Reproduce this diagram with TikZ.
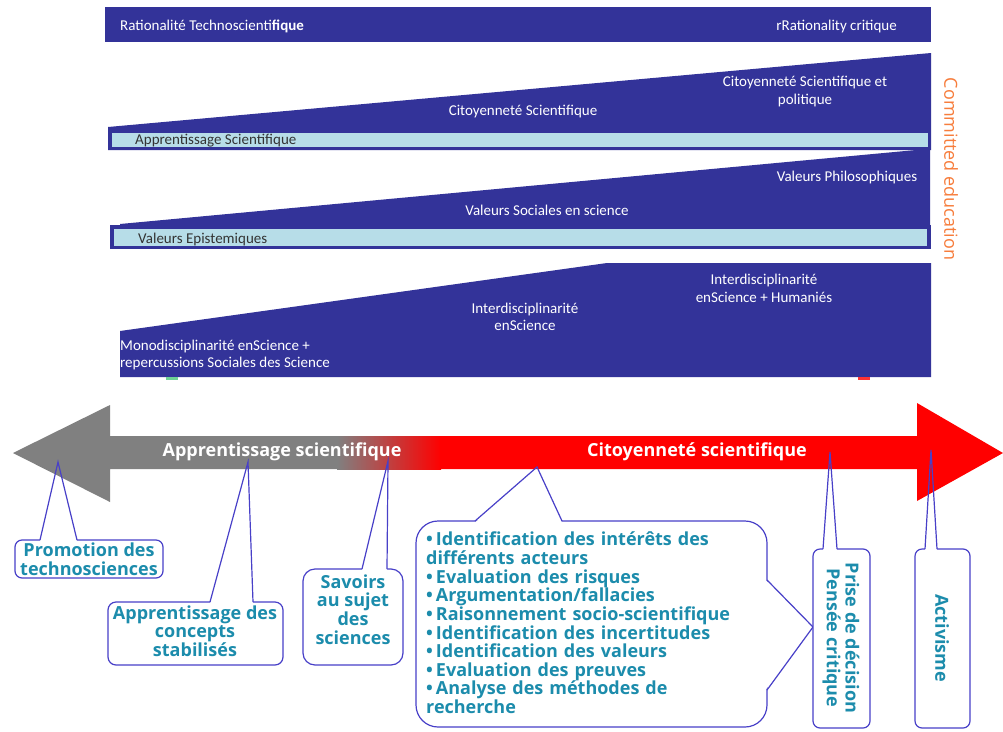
\documentclass[tikz,border=0pt]{standalone}
\usepackage{fontspec}
\setmainfont{Carlito}
\newfontfamily\osans{Open Sans}
\definecolor{dblue}{RGB}{51,51,153}
\definecolor{lbar}{RGB}{183,221,232}
\definecolor{cblue}{RGB}{72,64,200}
\definecolor{cteal}{RGB}{28,140,172}
\definecolor{agray}{RGB}{128,128,128}
\definecolor{ared}{RGB}{255,0,0}
\definecolor{corange}{RGB}{247,125,60}
\definecolor{mgreen}{RGB}{110,210,150}
\begin{document}
\begin{tikzpicture}[x=1pt,y=-1pt,
  band/.style={fill=dblue,draw=none},
  wtxt/.style={text=white,font=\fontsize{15}{17.5}\selectfont,inner sep=0,align=center},
  btxt/.style={text=black!80,font=\fontsize{15}{17.5}\selectfont,inner sep=0,anchor=west},
  cbox/.style={draw=cblue,line width=1.2pt,fill=white},
  ptr/.style={draw=cblue,line width=1.2pt,line join=miter},
  ctxt/.style={text=cteal,font=\osans\bfseries\fontsize{18}{18.6}\selectfont,inner sep=0,align=center},
  atxt/.style={text=white,font=\osans\bfseries\fontsize{18}{18}\selectfont,inner sep=0}]
\useasboundingbox (0,0) rectangle (1003,731);
\fill[white] (0,0) rectangle (1003,731);

% ---------- top bands ----------
\fill[band] (105,7) rectangle (931,42);
\node[wtxt,anchor=west] (rt) at (120,26) {Rationalit\'e Technoscienti\textbf{fique}};
\node[wtxt,anchor=east] (rc) at (897,26) {rRationality critique};

\fill[band] (108,127) -- (931,53) -- (931,150) -- (108,150) -- cycle;
\fill[lbar] (112,133) rectangle (928,147);
\node[wtxt] (cs) at (523,111.5) {Citoyennet\'e Scientifique};
\node[wtxt] (csp) at (805,91.5) {Citoyennet\'e Scientifique et\\politique};
\node[btxt] (as) at (135,140.5) {Apprentissage Scientifique};

\fill[band] (120,224) -- (916,150) -- (930,150) -- (930,226) -- (120,226) -- cycle;
\fill[band] (110,225) rectangle (931,249);
\fill[lbar] (114,229) rectangle (927,245.5);
\node[wtxt] (vp) at (847,177.5) {Valeurs Philosophiques};
\node[wtxt] (vs) at (547,210.5) {Valeurs Sociales en science};
\node[btxt] (ve) at (138,239) {Valeurs Epistemiques};

\fill[band] (120,331) -- (607,263) -- (931,263) -- (931,377) -- (120,377) -- cycle;
\node[wtxt] (ih) at (764,288.5) {Interdisciplinarit\'e\\enScience + Humani\'es};
\node[wtxt] (ie) at (525,317) {Interdisciplinarit\'e\\enScience};
\node[wtxt,align=left,anchor=west] (mo) at (120,355) {Monodisciplinarit\'e enScience +\\repercussions Sociales des Science};
\fill[mgreen] (166,377) rectangle (178,380);
\fill[ared!80] (858,377) rectangle (870,380);

\node[text=corange,font=\osans\fontsize{18}{20}\selectfont,rotate=-90,inner sep=0] (ce) at (951,169) {Committed education};

% ---------- callouts (boxes) ----------
\coordinate (t1) at (58,462);
\coordinate (t2) at (248,462);
\coordinate (t3) at (388,461);
\coordinate (t4) at (537,467);
\coordinate (t5) at (830,452);
\coordinate (t6) at (931,450);
\coordinate (t7) at (813,627);

\draw[cbox,rounded corners=7] (15,540) rectangle (163,578);
\fill[white] (40,541.5) -- (t1) -- (77,541.5) -- cycle;
\draw[cbox,rounded corners=8] (108,602) rectangle (283,665);
\fill[white] (210,603.5) -- (t2) -- (253,603.5) -- cycle;
\draw[cbox,rounded corners=12] (303,569) rectangle (403,665);
\fill[white] (362,570.5) -- (t3) -- (387,570.5) -- cycle;
\draw[cbox,rounded corners=22] (416,521) rectangle (767,727);
\fill[white] (475,522.5) -- (t4) -- (562,522.5) -- cycle;
\fill[white] (765.5,580) -- (t7) -- (765.5,690) -- cycle;
\draw[ptr] (767,580) -- (t7) -- (767,690);
\draw[cbox,rounded corners=7] (813,549) rectangle (870,728);
\fill[white] (823,550.5) -- (t5) -- (837,550.5) -- cycle;
\draw[cbox,rounded corners=7] (915,549) rectangle (970,728);
\fill[white] (925,550.5) -- (t6) -- (937,550.5) -- cycle;

% ---------- main arrow ----------
\fill[agray] (13,453) -- (110,405) -- (110,436) -- (338,436) -- (338,469) -- (110,469) -- (110,502) -- cycle;
\shade[left color=agray,right color=ared] (337,436) rectangle (441,469);
\fill[ared] (440,436) -- (917,436) -- (917,403) -- (1003,453) -- (917,501) -- (917,469) -- (440,469) -- cycle;
\node[atxt] (la) at (282,452) {Apprentissage scientifique};
\node[atxt] (lc) at (697,452) {Citoyennet\'e scientifique};

% ---------- pointer lines ----------
\draw[ptr] (40,540) -- (t1) -- (77,540);
\draw[ptr] (210,602) -- (t2) -- (253,602);
\draw[ptr] (362,569) -- (t3) -- (387,569);
\draw[ptr] (475,521) -- (t4) -- (562,521);
\draw[ptr] (823,549) -- (t5) -- (837,549);
\draw[ptr] (925,549) -- (t6) -- (937,549);

% ---------- callout texts ----------
\node[ctxt] (c1) at (89,559) {Promotion des\\technosciences};
\node[ctxt] (c2) at (195,631) {Apprentissage des\\concepts\\stabilis\'es};
\node[ctxt] (c3) at (353,609.5) {Savoirs\\au sujet\\des\\sciences};
\node[ctxt,align=left,anchor=north west,text width=345] (c4) at (426,532) {%
\textbullet\,Identification des int\'er\^ets des\\
diff\'erents acteurs\\
\textbullet\,Evaluation des risques\\
\textbullet\,Argumentation/fallacies\\
\textbullet\,Raisonnement socio-scientifique\\
\textbullet\,Identification des incertitudes\\
\textbullet\,Identification des valeurs\\
\textbullet\,Evaluation des preuves\\
\textbullet\,Analyse des m\'ethodes de\\
recherche};
\node[ctxt,rotate=-90] (c5) at (841,638) {Prise de d\'ecision\\Pens\'ee critique};
\node[ctxt,rotate=-90] (c6) at (942,638) {Activisme};
\end{tikzpicture}
\end{document}
